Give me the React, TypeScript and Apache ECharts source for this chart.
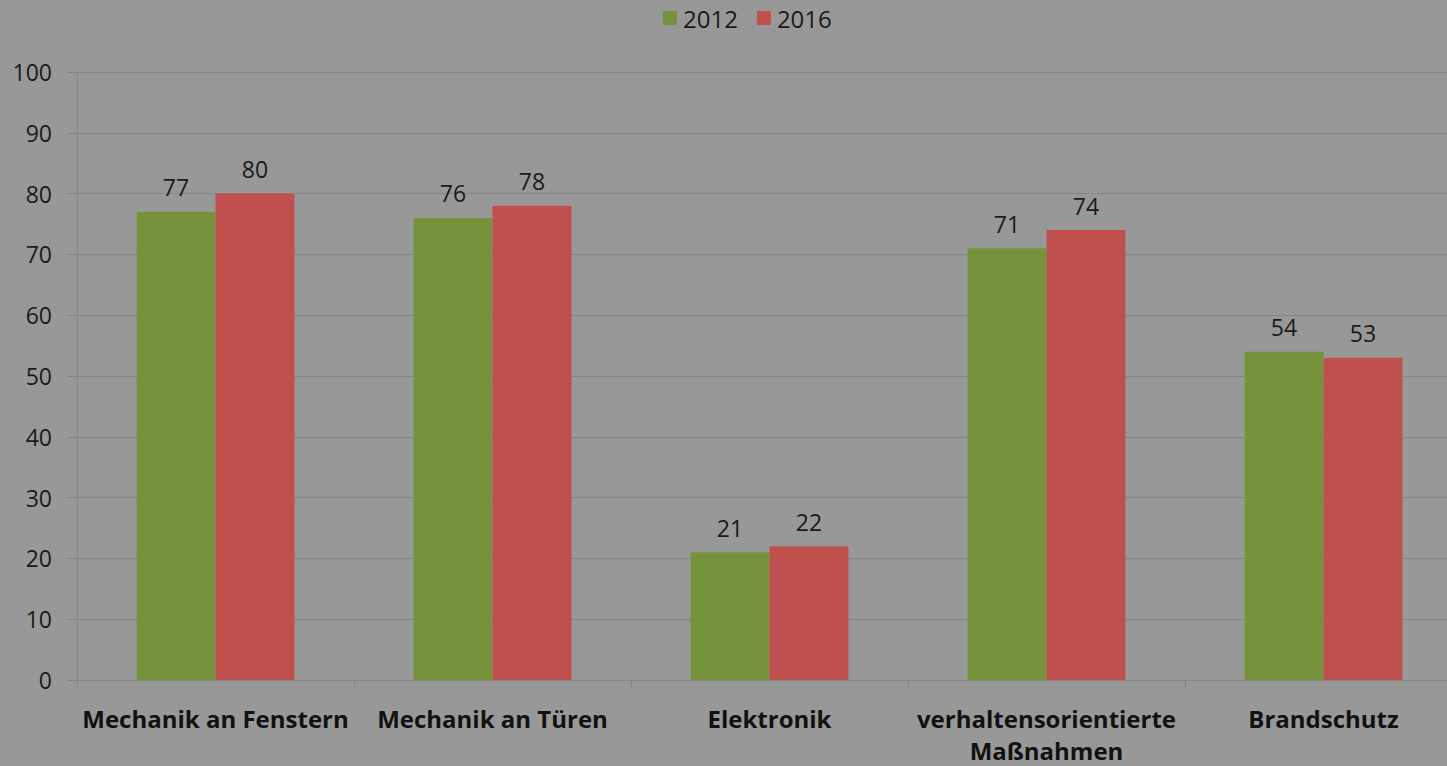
import React, { useEffect, useRef } from "react";
import * as echarts from "echarts";

const categories = [
  "Mechanik an Fenstern",
  "Mechanik an Türen",
  "Elektronik",
  "verhaltensorientierte\nMaßnahmen",
  "Brandschutz",
];
const values2012 = [77, 76, 21, 71, 54];
const values2016 = [80, 78, 22, 74, 53];
const seriesNames = ["2012", "2016"];

const FONT = "'Open Sans', 'Liberation Sans', sans-serif";

export default function App() {
  const ref = useRef<HTMLDivElement>(null);
  useEffect(() => {
    const chart = echarts.init(ref.current!, null, { renderer: "svg" });
    const labelStyle = {
      show: true,
      position: "top" as const,
      distance: 13,
      color: "#1a1a1a",
      fontSize: 23,
      fontFamily: FONT,
    };
    chart.setOption({
      animation: false,
      backgroundColor: "#989898",
      legend: {
        top: 1,
        left: 658,
        itemWidth: 14,
        itemHeight: 14,
        itemGap: 19,
        icon: "rect",
        textStyle: { fontSize: 24, color: "#1a1a1a", fontFamily: FONT, padding: [0, 0, 0, 1] },
        data: seriesNames,
      },
      grid: { left: 77, top: 72, height: 611, width: 1385 },
      xAxis: {
        type: "category",
        data: categories,
        axisLine: { lineStyle: { color: "#858585", width: 1 } },
        axisTick: { show: true, length: 8, lineStyle: { color: "#858585" } },
        axisLabel: {
          interval: 0,
          margin: 22,
          fontSize: 24,
          fontWeight: "bold",
          color: "#111",
          fontFamily: FONT,
          lineHeight: 32,
        },
      },
      yAxis: {
        type: "value",
        min: 0,
        max: 100,
        interval: 10,
        axisLine: { show: true, lineStyle: { color: "#858585" } },
        axisTick: { show: true, length: 10, lineStyle: { color: "#858585" } },
        splitLine: { lineStyle: { color: "#858585", width: 1 } },
        axisLabel: {
          fontSize: 23,
          color: "#1a1a1a",
          fontFamily: FONT,
          margin: 25,
        },
      },
      series: [
        {
          name: seriesNames[0],
          type: "bar",
          data: values2012,
          barWidth: "28.5%",
          barGap: "0%",
          itemStyle: { color: "#76933C" },
          label: labelStyle,
        },
        {
          name: seriesNames[1],
          type: "bar",
          data: values2016,
          barWidth: "28.5%",
          barGap: "0%",
          itemStyle: { color: "#C0504D" },
          label: labelStyle,
        },
      ],
    });
    return () => chart.dispose();
  }, []);
  return (
    <div
      style={{
        position: "fixed",
        left: 0,
        top: 0,
        width: 1447,
        height: 766,
        overflow: "hidden",
      }}
    >
      <div ref={ref} style={{ width: 1500, height: 766 }} />
    </div>
  );
}
